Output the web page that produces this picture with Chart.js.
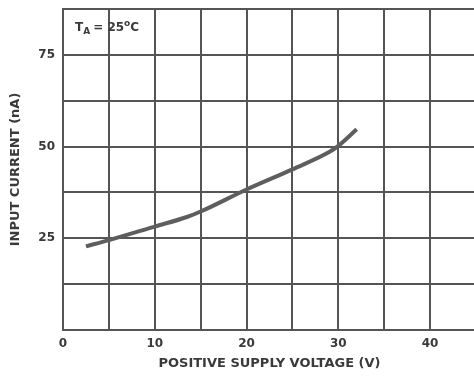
<!DOCTYPE html>
<html>
<head>
<meta charset="utf-8">
<script src="https://cdn.jsdelivr.net/npm/chart.js@4.4.1/dist/chart.umd.min.js"></script>
<style>
  html, body { margin: 0; padding: 0; background: #fff; overflow: hidden; }
  #wrap { width: 480px; height: 377px; }
</style>
</head>
<body>
<div id="wrap"><canvas id="chart" width="480" height="377"></canvas></div>
<script>
// Input current vs positive supply voltage at TA = 25°C
const supplyVoltage = [2.5, 5, 10, 13.5, 15, 20, 25, 29, 30, 32];
const inputCurrent  = [22.8, 24.5, 28.2, 30.8, 32.3, 38.3, 43.8, 48.5, 50.2, 54.7];
const xTickLabels = [0, 10, 20, 30, 40];
const yTickLabels = [25, 50, 75];

const ink = '#3a3a3a';
const gridInk = '#555555';
const fontFace = '"DejaVu Sans", sans-serif';

// Condition note in the upper-left corner of the plot
const conditionNote = {
  id: 'conditionNote',
  afterDraw(chart) {
    const ctx = chart.ctx;
    ctx.save();
    ctx.fillStyle = ink;
    ctx.textBaseline = 'alphabetic';
    let x = 75, y = 31;
    ctx.font = 'bold 12px ' + fontFace;
    ctx.fillText('T', x, y); x += ctx.measureText('T').width;
    ctx.font = 'bold 9px ' + fontFace;
    ctx.fillText('A', x, y + 3); x += ctx.measureText('A').width + 3;
    ctx.font = 'bold 12px ' + fontFace;
    ctx.fillText('= 25', x, y); x += ctx.measureText('= 25').width;
    ctx.font = 'bold 9px ' + fontFace;
    ctx.fillText('o', x, y - 5); x += ctx.measureText('o').width;
    ctx.font = 'bold 12px ' + fontFace;
    ctx.fillText('C', x, y);
    ctx.restore();
  }
};

new Chart(document.getElementById('chart'), {
  type: 'line',
  data: {
    datasets: [{
      data: supplyVoltage.map((v, i) => ({ x: v, y: inputCurrent[i] })),
      borderColor: '#5e5e5e',
      borderWidth: 4,
      pointRadius: 0,
      tension: 0.3,
      cubicInterpolationMode: 'monotone',
      fill: false
    }]
  },
  options: {
    responsive: false,
    animation: false,
    layout: { padding: { top: 9, right: 4, left: 0, bottom: 0 } },
    plugins: { legend: { display: false }, tooltip: { enabled: false } },
    scales: {
      x: {
        type: 'linear',
        min: 0,
        max: 45,
        border: { display: true, color: gridInk, width: 2 },
        grid: { color: gridInk, lineWidth: 2, drawTicks: false },
        ticks: {
          stepSize: 5,
          autoSkip: false,
          maxRotation: 0,
          padding: 7,
          color: ink,
          font: { family: fontFace, size: 12, weight: 'bold' },
          callback: v => xTickLabels.includes(v) ? String(v) : ''
        },
        title: {
          display: true,
          text: 'POSITIVE SUPPLY VOLTAGE (V)',
          color: ink,
          font: { family: fontFace, size: 13, weight: 'bold' },
          padding: { top: 4, bottom: 6 }
        },
        afterFit: s => { s.height = 47; s.paddingLeft = 0; s.paddingRight = 0; }
      },
      y: {
        type: 'linear',
        min: 0,
        max: 87.5,
        border: { display: true, color: gridInk, width: 2 },
        grid: { color: gridInk, lineWidth: 2, drawTicks: false },
        ticks: {
          stepSize: 12.5,
          autoSkip: false,
          padding: 8,
          color: ink,
          font: { family: fontFace, size: 12, weight: 'bold' },
          callback: v => yTickLabels.includes(v) ? String(v) : ''
        },
        title: {
          display: true,
          text: 'INPUT CURRENT (nA)',
          color: ink,
          font: { family: fontFace, size: 13, weight: 'bold' },
          padding: { top: 8, bottom: 4 }
        },
        afterFit: s => { s.width = 63; s.paddingTop = 0; s.paddingBottom = 0; }
      }
    }
  },
  plugins: [conditionNote]
});
</script>
</body>
</html>
